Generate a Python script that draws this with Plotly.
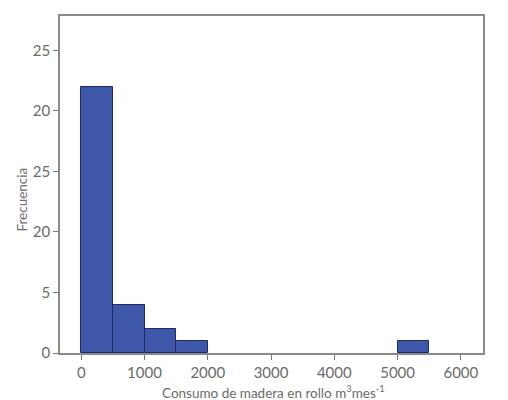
import plotly.graph_objects as go

# bin starts (m3/mes), bin width and counts
bin_start = [0, 500, 1000, 1500, 5000]
bin_width = 500
frecuencia = [22, 4, 2, 1, 1]

x_ticks = [0, 1000, 2000, 3000, 4000, 5000, 6000]
y_ticks = [0, 5, 10, 15, 20, 25]
y_ticktext = ["0", "5", "20", "25", "20", "25"]  # as printed in the original

x_title = "Consumo de madera en rollo m<sup>3</sup>mes<sup>-1</sup>"
y_title = "Frecuencia"

fig = go.Figure(go.Bar(
    x=bin_start,
    y=frecuencia,
    width=bin_width,
    offset=0,
    marker=dict(color="#3F57A8", line=dict(color="#1E2A60", width=1)),
))

tick_font = dict(family="Lato, Open Sans, sans-serif", size=15, color="#6b6b6b")
title_font = dict(family="Lato, Open Sans, sans-serif", size=13.5, color="#6b6b6b")

fig.update_xaxes(
    range=[-336, 6350],
    tickvals=x_ticks,
    ticks="outside", ticklen=5, tickcolor="#777",
    showline=True, linecolor="#8a8a8a", linewidth=1.5, mirror=True,
    showgrid=False, zeroline=False, automargin=False,
    tickfont=tick_font,
)
fig.update_yaxes(
    range=[0, 27.85],
    tickvals=y_ticks, ticktext=y_ticktext,
    ticks="outside", ticklen=5, tickcolor="#777",
    showline=True, linecolor="#8a8a8a", linewidth=1.5, mirror=True,
    showgrid=False, zeroline=False, automargin=False,
    tickfont=tick_font,
)

# axis titles placed by hand (the y title sits below centre in the original)
fig.add_annotation(text=x_title, xref="paper", yref="paper", x=0.505, y=-0.115,
                   showarrow=False, font=title_font, yanchor="middle")
fig.add_annotation(text=y_title, xref="paper", yref="paper", x=-0.09, y=0.455,
                   showarrow=False, font=title_font, textangle=-90,
                   xanchor="center", yanchor="middle")

# page body has an 8px margin, so the figure is shrunk and margins offset by it
fig.update_layout(
    width=500, height=392,
    margin=dict(l=52, r=25, t=8, b=47),
    plot_bgcolor="white", paper_bgcolor="white",
    showlegend=False, bargap=0,
)

fig.write_html("out.html")
